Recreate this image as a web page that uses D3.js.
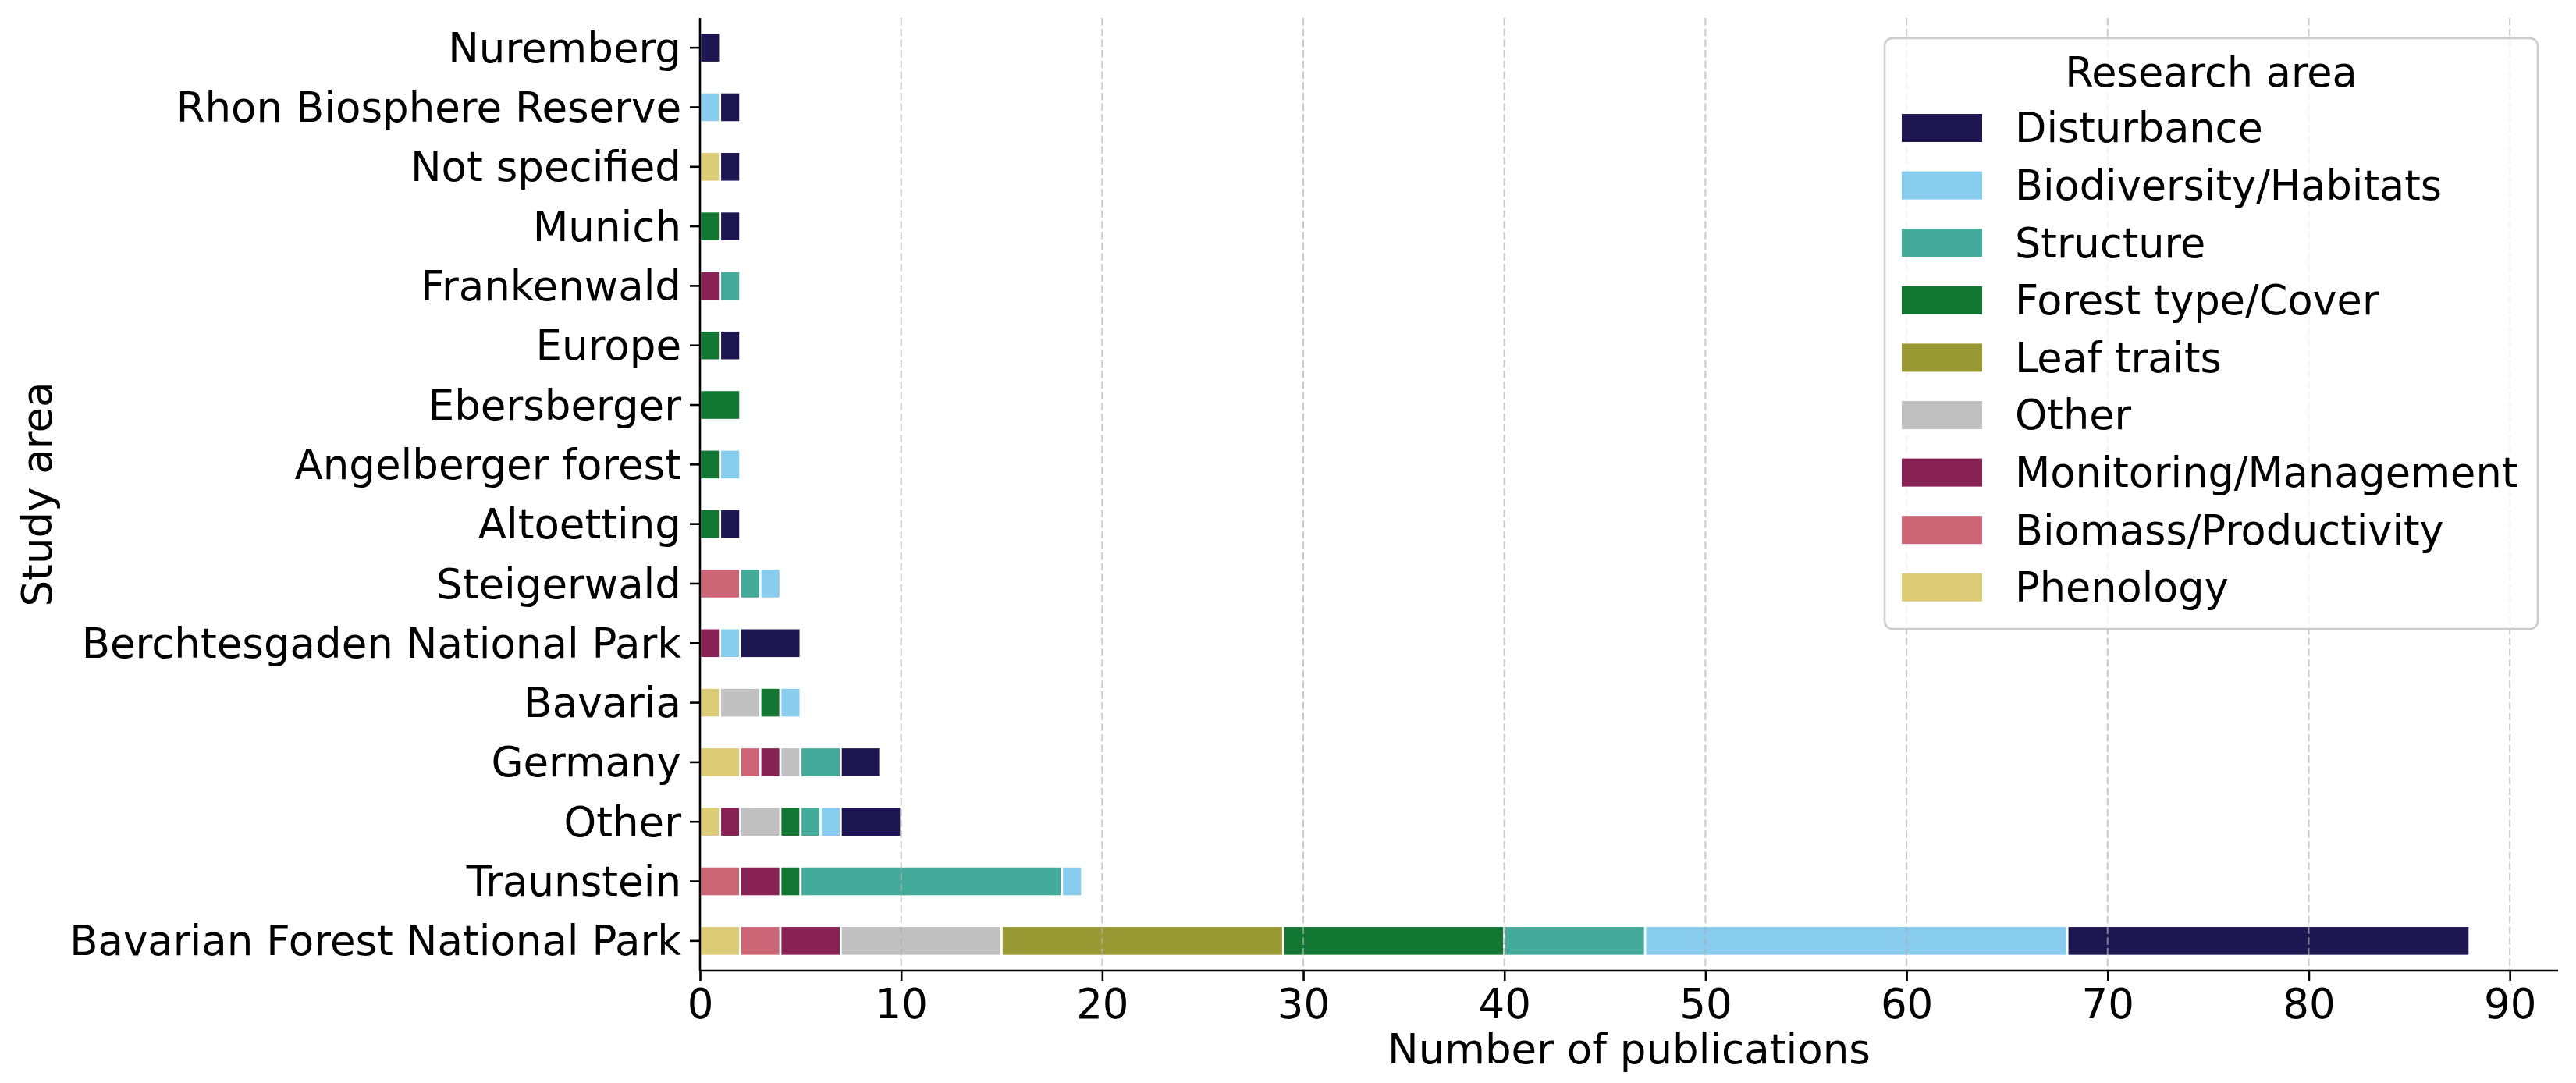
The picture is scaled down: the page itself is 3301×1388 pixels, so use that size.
<!DOCTYPE html>
<html>
<head>
<meta charset="utf-8">
<script src="https://cdn.jsdelivr.net/npm/d3@7"></script>
<style>
  html, body { margin: 0; padding: 0; background: #ffffff; }
  svg { display: block; font-family: "DejaVu Sans", sans-serif; }
</style>
</head>
<body>
<svg id="chart" width="3301" height="1388"></svg>
<script>
// ---- data ----
const categories = ["Nuremberg", "Rhon Biosphere Reserve", "Not specified", "Munich", "Frankenwald", "Europe",
  "Ebersberger", "Angelberger forest", "Altoetting", "Steigerwald", "Berchtesgaden National Park", "Bavaria",
  "Germany", "Other", "Traunstein", "Bavarian Forest National Park"];

const seriesNames = ["Phenology", "Biomass/Productivity", "Monitoring/Management", "Other", "Leaf traits",
  "Forest type/Cover", "Structure", "Biodiversity/Habitats", "Disturbance"];

const phenology    = [0, 0, 1, 0, 0, 0, 0, 0, 0, 0, 0, 1, 2, 1, 0, 2];
const biomass      = [0, 0, 0, 0, 0, 0, 0, 0, 0, 2, 0, 0, 1, 0, 2, 2];
const monitoring   = [0, 0, 0, 0, 1, 0, 0, 0, 0, 0, 1, 0, 1, 1, 2, 3];
const otherArea    = [0, 0, 0, 0, 0, 0, 0, 0, 0, 0, 0, 2, 1, 2, 0, 8];
const leafTraits   = [0, 0, 0, 0, 0, 0, 0, 0, 0, 0, 0, 0, 0, 0, 0, 14];
const forestType   = [0, 0, 0, 1, 0, 1, 2, 1, 1, 0, 0, 1, 0, 1, 1, 11];
const structure    = [0, 0, 0, 0, 1, 0, 0, 0, 0, 1, 0, 0, 2, 1, 13, 7];
const biodiversity = [0, 1, 0, 0, 0, 0, 0, 1, 0, 1, 1, 1, 0, 1, 1, 21];
const disturbance  = [1, 1, 1, 1, 0, 1, 0, 0, 1, 0, 3, 0, 2, 3, 0, 20];

const seriesValues = [phenology, biomass, monitoring, otherArea, leafTraits, forestType, structure, biodiversity, disturbance];
const seriesColors = ["#DDCC77", "#CC6677", "#882255", "#C0C0C0", "#999933", "#117733", "#44AA99", "#88CCEE", "#1E1651"];

const xTicks = [0, 10, 20, 30, 40, 50, 60, 70, 80, 90];
const legendTitle = "Research area";
const xLabel = "Number of publications";
const yLabel = "Study area";

// ---- layout ----
const svg = d3.select("#chart");
const pL = 897, pR = 3278, pT = 23, pB = 1244;
const fs = 53;
const legFs = 52.5;

const table = categories.map((c, i) => {
  const row = { category: c };
  seriesNames.forEach((s, j) => { row[s] = seriesValues[j][i]; });
  return row;
});

const x = d3.scaleLinear().domain([0, 92.4]).range([pL, pR]);
const y = d3.scaleBand().domain(categories).range([pT, pB]).paddingInner(0.5).paddingOuter(0.25);
const color = d3.scaleOrdinal().domain(seriesNames).range(seriesColors);

const stacked = d3.stack().keys(seriesNames)(table);

// bars
const gBars = svg.append("g");
stacked.forEach(layer => {
  gBars.append("g")
    .attr("fill", color(layer.key))
    .selectAll("rect")
    .data(layer.filter(d => d[1] - d[0] > 0))
    .join("rect")
    .attr("x", d => x(d[0]))
    .attr("width", d => x(d[1]) - x(d[0]))
    .attr("y", d => y(d.data.category))
    .attr("height", y.bandwidth())
    .attr("stroke", "#ffffff")
    .attr("stroke-width", 2.6);
});

// grid (drawn above bars, as in reference)
svg.append("g")
  .selectAll("line")
  .data(xTicks)
  .join("line")
  .attr("x1", d => x(d)).attr("x2", d => x(d))
  .attr("y1", pT).attr("y2", pB)
  .attr("stroke", "#b0b0b0")
  .attr("stroke-opacity", 0.7)
  .attr("stroke-width", 2)
  .attr("stroke-dasharray", "9.5,4.2");

// x axis
const xAxis = svg.append("g")
  .attr("transform", `translate(0,${pB})`)
  .call(d3.axisBottom(x).tickValues(xTicks).tickFormat(d3.format("d")).tickSize(13).tickPadding(10));
xAxis.select(".domain").attr("stroke", "#000").attr("stroke-width", 2.6).attr("d", `M${pL},0H${pR}`);
xAxis.selectAll(".tick line").attr("stroke", "#000").attr("stroke-width", 2.6);
xAxis.selectAll(".tick text").attr("font-size", fs).attr("fill", "#000")
  .attr("font-family", "DejaVu Sans").attr("dy", "0.71em");

// y axis
const yAxis = svg.append("g")
  .attr("transform", `translate(${pL},0)`)
  .call(d3.axisLeft(y).tickSize(13).tickPadding(11));
yAxis.select(".domain").attr("stroke", "#000").attr("stroke-width", 2.6).attr("d", `M0,${pT}V${pB}`);
yAxis.selectAll(".tick line").attr("stroke", "#000").attr("stroke-width", 2.6);
yAxis.selectAll(".tick text").attr("font-size", fs).attr("fill", "#000")
  .attr("font-family", "DejaVu Sans").attr("dy", "0.35em");

// axis labels
svg.append("text")
  .attr("x", (pL + pR) / 2).attr("y", 1363)
  .attr("text-anchor", "middle").attr("font-size", fs).attr("fill", "#000")
  .text(xLabel);

svg.append("text")
  .attr("transform", `translate(66,${(pT + pB) / 2}) rotate(-90)`)
  .attr("text-anchor", "middle").attr("font-size", fs).attr("fill", "#000")
  .text(yLabel);

// legend
const legX = 2415, legY = 49, legW = 3252 - 2415, legH = 806 - 49;
const gLeg = svg.append("g");
gLeg.append("rect")
  .attr("x", legX).attr("y", legY).attr("width", legW).attr("height", legH)
  .attr("rx", 10).attr("ry", 10)
  .attr("fill", "#ffffff").attr("fill-opacity", 0.8)
  .attr("stroke", "#cccccc").attr("stroke-width", 2.6);
gLeg.append("text")
  .attr("x", legX + legW / 2).attr("y", 111)
  .attr("text-anchor", "middle").attr("font-size", legFs).attr("fill", "#000")
  .text(legendTitle);

const legendOrder = seriesNames.slice().reverse();
const item = gLeg.selectAll("g.item")
  .data(legendOrder)
  .join("g")
  .attr("class", "item")
  .attr("transform", (d, i) => `translate(0,${164 + i * 73.6})`);
item.append("rect")
  .attr("x", 2437).attr("y", -18).attr("width", 103).attr("height", 36)
  .attr("fill", d => color(d));
item.append("text")
  .attr("x", 2582).attr("y", 0).attr("dy", "0.35em")
  .attr("font-size", legFs).attr("fill", "#000")
  .text(d => d);
</script>
</body>
</html>
